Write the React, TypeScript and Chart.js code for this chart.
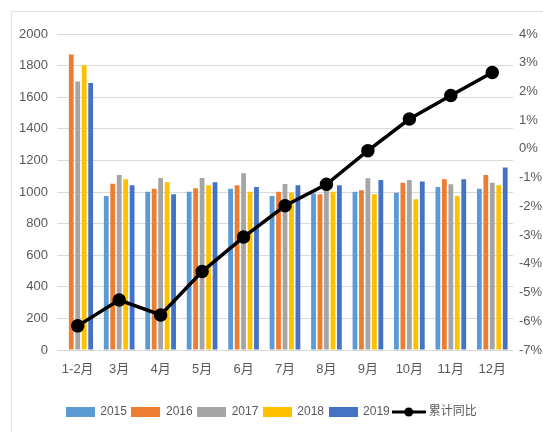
import React, { useEffect, useRef } from "react";
import { Chart, registerables } from "chart.js";

Chart.register(...registerables);

const categories = ["1-2月", "3月", "4月", "5月", "6月", "7月", "8月", "9月", "10月", "11月", "12月"];
const v2015 = [null, 975, 1002, 1002, 1021, 975, 990, 1002, 996, 1032, 1021];
const v2016 = [1870, 1053, 1021, 1023, 1043, 1002, 985, 1011, 1059, 1081, 1108];
const v2017 = [1700, 1108, 1089, 1089, 1119, 1050, 1042, 1087, 1076, 1049, 1059];
const v2018 = [1802, 1081, 1062, 1043, 1002, 996, 1002, 985, 954, 975, 1043];
const v2019 = [1690, 1043, 985, 1062, 1032, 1043, 1043, 1076, 1066, 1081, 1155];
const cumYoY = [-6.16, -5.26, -5.78, -4.27, -3.07, -1.98, -1.23, -0.06, 1.04, 1.86, 2.66];
const leftTicks = [0, 200, 400, 600, 800, 1000, 1200, 1400, 1600, 1800, 2000];
const rightTicks = [-7, -6, -5, -4, -3, -2, -1, 0, 1, 2, 3, 4];

const FONT = "'Liberation Sans', 'Noto Sans CJK SC', sans-serif";
const FS = 13;

function boxImage(color: string) {
  const c = document.createElement("canvas");
  c.width = 29;
  c.height = 10;
  const ctx = c.getContext("2d")!;
  ctx.fillStyle = color;
  ctx.fillRect(0, 0, 29, 10);
  return c;
}

function lineImage(color: string) {
  const c = document.createElement("canvas");
  c.width = 34;
  c.height = 12;
  const ctx = c.getContext("2d")!;
  ctx.strokeStyle = color;
  ctx.lineWidth = 3;
  ctx.beginPath();
  ctx.moveTo(0, 6);
  ctx.lineTo(34, 6);
  ctx.stroke();
  ctx.fillStyle = color;
  ctx.beginPath();
  ctx.arc(17, 6, 4.5, 0, Math.PI * 2);
  ctx.fill();
  return c;
}

const framePlugin = {
  id: "frame",
  beforeDraw(chart: any) {
    const ctx = chart.ctx;
    ctx.save();
    ctx.strokeStyle = "#e2e2e2";
    ctx.lineWidth = 1;
    ctx.beginPath();
    ctx.moveTo(11.5, chart.height);
    ctx.lineTo(11.5, 11.5);
    ctx.lineTo(chart.width, 11.5);
    ctx.stroke();
    ctx.restore();
  },
};

export default function App() {
  const ref = useRef<HTMLCanvasElement>(null);
  useEffect(() => {
    const barColors = ["#5B9BD5", "#ED7D31", "#A5A5A5", "#FFC000", "#4472C4"];
    const barSeries = [v2015, v2016, v2017, v2018, v2019];
    const barLabels = ["2015", "2016", "2017", "2018", "2019"];
    const datasets: any[] = barSeries.map((d, i) => ({
      type: "bar",
      label: barLabels[i],
      data: d,
      backgroundColor: barColors[i],
      yAxisID: "y",
      categoryPercentage: 0.78,
      barPercentage: 0.74,
      order: 2,
      pointStyle: boxImage(barColors[i]),
    }));
    datasets.push({
      type: "line",
      label: "累计同比",
      data: cumYoY,
      borderColor: "#000000",
      backgroundColor: "#000000",
      borderWidth: 3.5,
      pointRadius: 5,
      pointBackgroundColor: "#000000",
      pointBorderColor: "#000000",
      yAxisID: "y1",
      order: 1,
      pointStyle: "circle",
    });
    const lineImg = lineImage("#000000");
    const chart = new Chart(ref.current!, {
      type: "bar",
      data: { labels: categories, datasets },
      plugins: [framePlugin],
      options: {
        animation: false,
        responsive: false,
        maintainAspectRatio: false,
        layout: { padding: { top: 34, bottom: 4, left: 0, right: 0 } },
        plugins: {
          tooltip: { enabled: false },
          legend: {
            position: "bottom",
            labels: {
              usePointStyle: true,
              pointStyleWidth: 28,
              boxHeight: 12,
              padding: 5,
              color: "#595959",
              font: { family: FONT, size: 12 },
              sort: (a: any, b: any) => a.datasetIndex - b.datasetIndex,
              generateLabels: (ch: any) => {
                const items = Chart.defaults.plugins.legend.labels.generateLabels(ch);
                items.forEach((it: any) => {
                  const ds = ch.data.datasets[it.datasetIndex];
                  it.pointStyle = ds.type === "line" ? lineImg : ds.pointStyle;
                });
                return items;
              },
            },
          },
        },
        scales: {
          x: {
            grid: { display: false },
            border: { display: false },
            ticks: { color: "#595959", font: { family: FONT, size: FS }, padding: 4, maxRotation: 0 },
            afterFit: (s: any) => { s.height = 51; },
          },
          y: {
            position: "left",
            min: 0,
            max: 2000,
            afterBuildTicks: (s: any) => { s.ticks = leftTicks.map((v) => ({ value: v })); },
            grid: { color: "#d9d9d9", drawTicks: false },
            border: { display: false },
            ticks: {
              color: "#595959",
              font: { family: FONT, size: FS },
              padding: 9,
              callback: (v: any) => String(v),
            },
            afterFit: (s: any) => { s.width = 57; },
          },
          y1: {
            position: "right",
            min: -7,
            max: 4,
            afterBuildTicks: (s: any) => { s.ticks = rightTicks.map((v) => ({ value: v })); },
            grid: { display: false, drawTicks: false },
            border: { display: false },
            ticks: {
              color: "#595959",
              font: { family: FONT, size: FS },
              padding: 6,
              callback: (v: any) => `${v}%`,
            },
            afterFit: (s: any) => { s.width = 30; },
          },
        },
      },
    } as any);
    return () => chart.destroy();
  }, []);
  return (
    <div style={{ position: "fixed", left: 0, top: 0, width: 543, height: 432, background: "#fff" }}>
      <canvas ref={ref} width={543} height={432} style={{ width: 543, height: 432 }} />
    </div>
  );
}
